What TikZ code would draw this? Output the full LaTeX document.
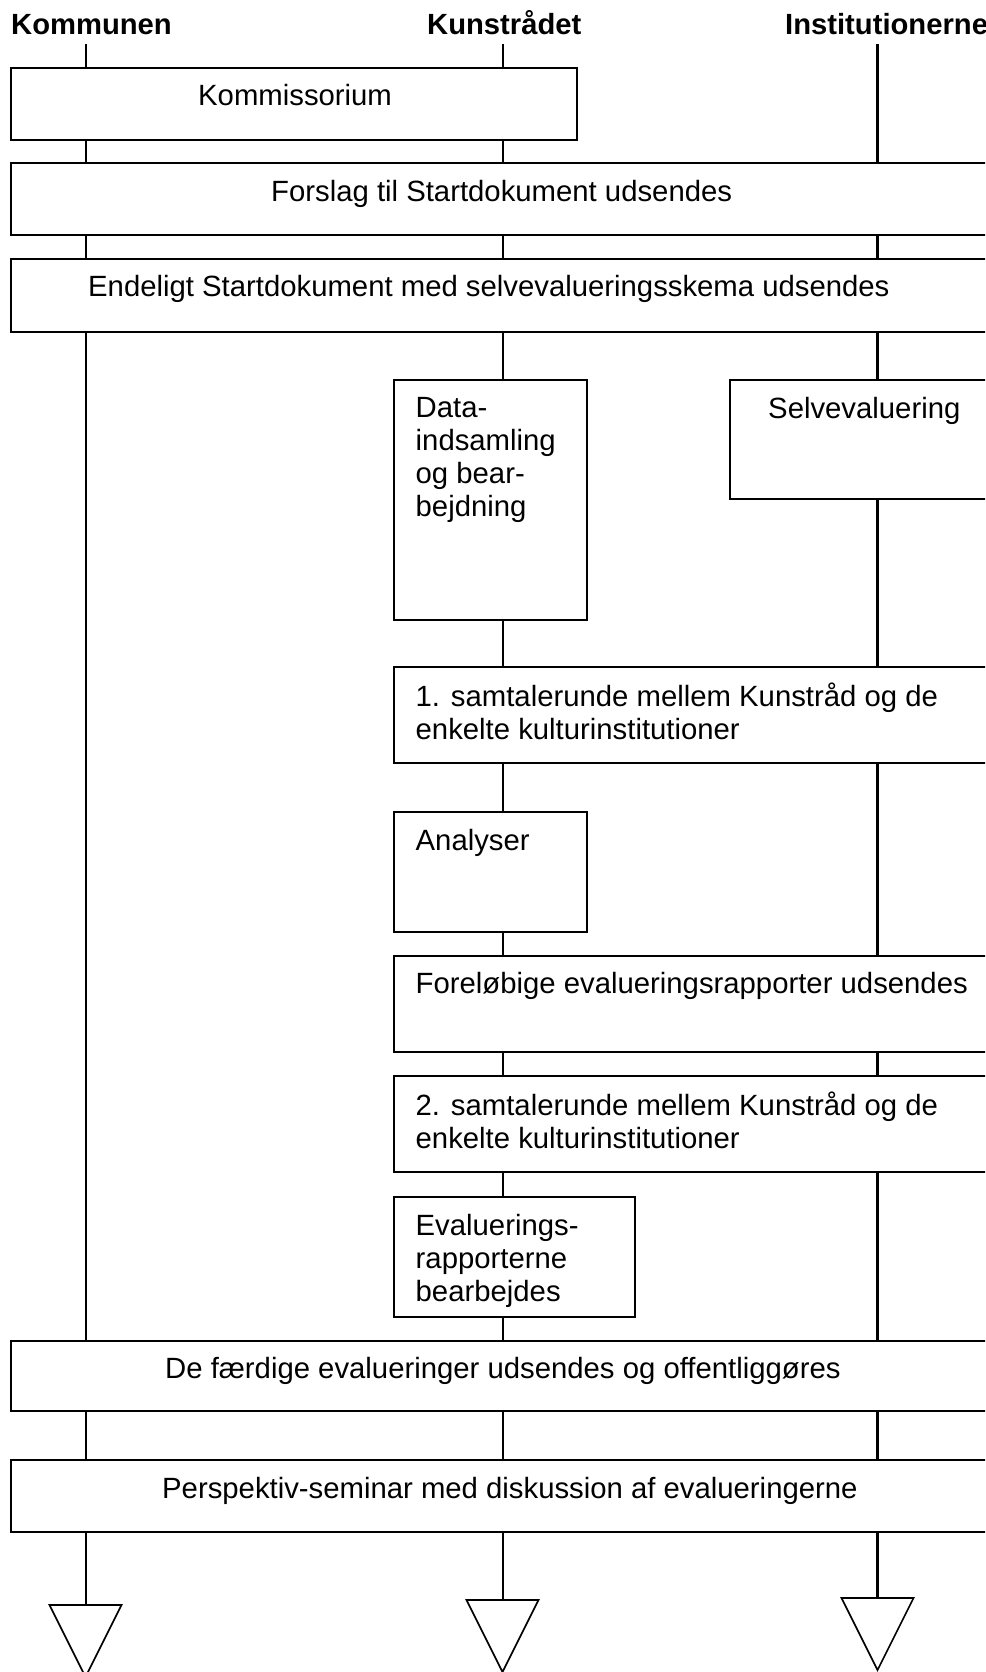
\documentclass[tikz,border=0pt]{standalone}
\usepackage{fontspec}
\setmainfont{Liberation Sans}
\usetikzlibrary{fit}
\begin{document}
\begin{tikzpicture}[x=1pt,y=-1pt,
  box/.style={draw, line width=2pt, fill=white, inner sep=0pt},
  lane/.style={line width=2pt},
  lanethick/.style={line width=2.6pt},
  txt/.style={inner sep=0pt, font=\fontsize{29.3}{33}\selectfont, align=left},
  hdr/.style={inner sep=0pt, font=\bfseries\fontsize{29.2}{33}\selectfont},
  tri/.style={draw, line width=1.6pt, line join=miter}]
\useasboundingbox (0,0) rectangle (985,1672);
\clip (0,0) rectangle (985,1672);
\fill[white] (0,0) rectangle (985,1672);

% headers
\node[hdr, anchor=base west] (hK) at (11,35) {Kommunen};
\node[hdr, anchor=base west] (hU) at (427,35) {Kunstrådet};
\node[hdr, anchor=base west] (hI) at (785,35) {Institutionerne};
\coordinate (k0) at (85.5,44);
\coordinate (u0) at (502.5,44);
\coordinate (i0) at (877.5,44);

% boxes
\node[box, fit={(10.7,68) (577,140)}] (kom) {};
\node[box, fit={(10.7,163) (995,235)}] (fors) {};
\node[box, fit={(10.7,259) (995,332)}] (endl) {};
\node[box, fit={(394,380) (587,620)}] (data) {};
\node[box, fit={(730,380) (997,499)}] (selv) {};
\node[box, fit={(394,667) (995,763)}] (sam1) {};
\node[box, fit={(394,812) (587,932)}] (anal) {};
\node[box, fit={(394,956) (995,1052)}] (forl) {};
\node[box, fit={(394,1076) (995,1172)}] (sam2) {};
\node[box, fit={(394,1197) (635,1317)}] (evr) {};
\node[box, fit={(10.7,1341) (995,1411)}] (faerd) {};
\node[box, fit={(10.7,1460) (995,1532)}] (persp) {};

% texts (multi-line nodes: base anchor = last line)
\node[txt, anchor=base west] (komT) at (198,106) {Kommissorium};
\node[txt, anchor=base west] (forsT) at (271,201) {Forslag til Startdokument udsendes};
\node[txt, anchor=base west] (endlT) at (88,296) {Endeligt Startdokument med selvevalueringsskema udsendes};
\node[txt, anchor=base west] (dataT) at (415.5,516) {Data-\\indsamling\\og bear-\\bejdning};
\node[txt, anchor=base west] (selvT) at (768,418) {Selvevaluering};
\node[txt, anchor=base west] (sam1T) at (415.5,739) {1. samtalerunde mellem Kunstråd og de\\enkelte kulturinstitutioner};
\node[txt, anchor=base west] (analT) at (415.5,850) {Analyser};
\node[txt, anchor=base west] (forlT) at (415.5,993) {Foreløbige evalueringsrapporter udsendes};
\node[txt, anchor=base west] (sam2T) at (415.5,1148) {2. samtalerunde mellem Kunstråd og de\\enkelte kulturinstitutioner};
\node[txt, anchor=base west] (evrT) at (415.5,1301) {Evaluerings-\\rapporterne\\bearbejdes};
\node[txt, anchor=base west] (faerdT) at (165,1378) {De færdige evalueringer udsendes og offentliggøres};
\node[txt, anchor=base west] (perspT) at (162,1498) {Perspektiv-seminar med diskussion af evalueringerne};

% triangle tops
\coordinate (t1) at (85.5,1605);
\coordinate (t2) at (502.5,1600);
\coordinate (t3) at (877.5,1598);

% lane: Kommunen
\draw[lane] (k0) -- (kom.north -| k0);
\draw[lane] (kom.south -| k0) -- (fors.north -| k0);
\draw[lane] (fors.south -| k0) -- (endl.north -| k0);
\draw[lane] (endl.south -| k0) -- (faerd.north -| k0);
\draw[lane] (faerd.south -| k0) -- (persp.north -| k0);
\draw[lane] (persp.south -| k0) -- (t1);

% lane: Kunstraadet
\draw[lane] (u0) -- (kom.north -| u0);
\draw[lane] (kom.south -| u0) -- (fors.north -| u0);
\draw[lane] (fors.south -| u0) -- (endl.north -| u0);
\draw[lane] (endl.south -| u0) -- (data.north -| u0);
\draw[lane] (data.south -| u0) -- (sam1.north -| u0);
\draw[lane] (sam1.south -| u0) -- (anal.north -| u0);
\draw[lane] (anal.south -| u0) -- (forl.north -| u0);
\draw[lane] (forl.south -| u0) -- (sam2.north -| u0);
\draw[lane] (sam2.south -| u0) -- (evr.north -| u0);
\draw[lane] (evr.south -| u0) -- (faerd.north -| u0);
\draw[lane] (faerd.south -| u0) -- (persp.north -| u0);
\draw[lane] (persp.south -| u0) -- (t2);

% lane: Institutionerne
\draw[lanethick] (i0) -- (fors.north -| i0);
\draw[lanethick] (fors.south -| i0) -- (endl.north -| i0);
\draw[lanethick] (endl.south -| i0) -- (selv.north -| i0);
\draw[lanethick] (selv.south -| i0) -- (sam1.north -| i0);
\draw[lanethick] (sam1.south -| i0) -- (forl.north -| i0);
\draw[lanethick] (forl.south -| i0) -- (sam2.north -| i0);
\draw[lanethick] (sam2.south -| i0) -- (faerd.north -| i0);
\draw[lanethick] (faerd.south -| i0) -- (persp.north -| i0);
\draw[lanethick] (persp.south -| i0) -- (t3);

% triangles
\draw[tri] (t1) ++(-36,0) -- ++(72,0) -- ++(-36,72) -- cycle;
\draw[tri] (t2) ++(-36,0) -- ++(72,0) -- ++(-36,72) -- cycle;
\draw[tri] (t3) ++(-36,0) -- ++(72,0) -- ++(-36,72) -- cycle;
\end{tikzpicture}
\end{document}
